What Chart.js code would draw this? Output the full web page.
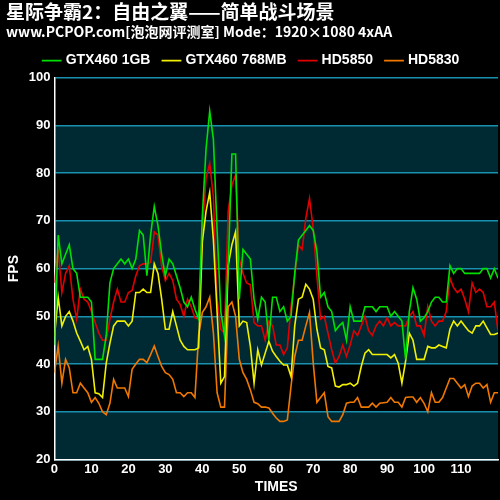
<!DOCTYPE html>
<html><head><meta charset="utf-8">
<script src="https://cdn.jsdelivr.net/npm/chart.js@4"></script>
<style>html,body{margin:0;padding:0;background:#000;}#w{width:500px;height:500px;}</style>
</head><body><div id="w"><canvas id="c"></canvas></div>
<script>
const seriesNames = ["GTX460 1GB", "GTX460 768MB", "HD5850", "HD5830"];
const gtx460_1gb = [44,67,61,63,65,60,59,54,54,54,53,41,41,41,46,57,60,61,62,61,62,60,62,68,67,58.5,67,73,69,63,58.5,62,61,58.5,56,53,52,54,51.5,49.5,71,85,93,87,68,51,46,60.6,84,84,53.6,64,63,62,53.6,49.4,54,53,45,54,54,51,52,49,50,59,66,67,68,69,68,63.5,54,55,52,51,47,48,48.7,45,52,49,49,49,52,52,52,51,52,52,52,50,51,50,49,41,51,56,53.6,49,49.7,51,53,54,54,53,53,60.6,59,60,60,59,59,59,59,59,60,60,58,60,58];
const gtx460_768 = [45.8,54,48,50,51,49,46.5,44.8,43,43.7,41,34,33.8,33,40.2,44.4,48,49,49,49,48,49,55,55,55.7,55,55,61,59,53.6,47.3,47.3,51,48,45,43.7,43,43,43,43.4,65.6,72,76,66,50.8,36,37.4,60.6,65,67.7,48,49,48.7,43.7,36,43,39.8,42.3,44.8,42.7,41.6,40.6,39.8,39.8,37.4,48,53.6,54,56.7,55.7,53.6,47.3,43.4,43,39.5,39.2,35.4,35.2,35.7,35.7,36,35.4,36,39.5,42.3,43,42,42,42,42,42,41.3,42,40.2,36,40.6,46.5,45,41,41,41,43.7,43.4,43.4,44,43.7,43.4,47.3,49,48,49,48,47,46.5,48,48,49,47.6,46.2,46.2,46.5];
const hd5850 = [57,64,55,59,60.6,53.6,49.4,55.7,53.6,53,51,48.7,46.5,45,45,49.4,53,55.7,53,53,55,55.4,58.5,60.6,61,61,61.3,67.7,67,60.6,57.5,59,57.5,53.6,52.5,50,53.6,52,49.7,49.4,67.7,79,82,75,53.6,47.3,46.5,72,77.5,79.6,62,59,57,56.6,48.7,48,48,45,49,48,44,44,42,43.4,52,58.5,65,64,70.5,74.7,68.4,58.5,49.4,50,46.5,43,40.2,41.6,44,41.6,44,47,46,48,50,47,46,48,49,48,49.7,48,48.7,48,48,48,50,51,48,48,46,52,49,48,49,49,51,58,56,55,55.7,53.6,51,57,55,55.7,55,52,52,53,47];
const hd5830 = [38.2,43.8,36,41,39.2,34,34,36,35,34,32,33,31.8,30,29.4,31.8,36.8,35,35,35,33.2,38.9,40,41,41,40.3,42,43.8,41.6,39.5,38.2,37.8,36.8,34,34,33.2,34,34,33,46,50.8,52,54,46.5,34,31,31,52,53,50,41,38.2,36.8,34.6,32,31.7,31,31,30.8,29.7,28.7,28,28,28.3,35.4,41.6,45,45,48,50.8,40.3,32,33,34,29,28,28,28,29.4,31.8,32,32,33,31,31,31,31.8,31,31.8,31.9,32,33,32,32,31,33,33.1,33.1,32,33,31.8,30,34,32,32,33,35,37,37,36,35,35.7,33.2,35.4,36,36,35,35.7,32,34,34];
const xTicks = [0,10,20,30,40,50,60,70,80,90,100,110];
const yTicks = [20,30,40,50,60,70,80,90,100];
const colors = ["#00e000","#f0f000","#e00000","#f07800"];
const allSeries = [gtx460_1gb, gtx460_768, hd5850, hd5830];

const bands = {
  id:'bands',
  beforeDraw(chart){
    const {ctx, chartArea:a, scales:{y}} = chart;
    ctx.save();
    ctx.fillStyle='#000'; ctx.fillRect(0,0,chart.width,chart.height);
    for(let v=20; v<100; v+=20){
      const t=y.getPixelForValue(v+10), b=y.getPixelForValue(v);
      ctx.fillStyle='#002a33'; ctx.fillRect(a.left,t,a.right-a.left,b-t);
    }
    ctx.restore();
  }
};

new Chart(document.getElementById('c'), {
  type:'line',
  data:{ datasets: allSeries.map((s,i)=>({
    label: seriesNames[i],
    data: s.map((v,k)=>({x:k,y:v})),
    borderColor: colors[i], backgroundColor: colors[i],
    borderWidth: 1.6, pointRadius:0, tension:0
  }))},
  options:{
    responsive:true, maintainAspectRatio:false, animation:false,
    layout:{padding:{left:6,right:2,top:0,bottom:0}},
    plugins:{
      title:{display:true, text:'星际争霸2：自由之翼——简单战斗场景', align:'start', color:'#fff',
        font:{family:'Noto Sans CJK SC', size:19, weight:'bold'}, padding:{top:0,bottom:0}},
      subtitle:{display:true, text:'www.PCPOP.com[泡泡网评测室] Mode：1920×1080 4xAA', align:'start', color:'#fff',
        font:{family:'Noto Sans CJK SC', size:14, weight:'bold'}, padding:{top:0,bottom:0}},
      legend:{display:true, labels:{color:'#fff', usePointStyle:true, pointStyle:'line', boxWidth:24,
        font:{family:'Arial, Liberation Sans', size:14, weight:'bold'}, padding:14}},
      tooltip:{enabled:false}
    },
    scales:{
      x:{type:'linear', min:0, max:120,
        afterBuildTicks(s){ s.ticks = xTicks.map(v=>({value:v})); },
        ticks:{color:'#fff', font:{family:'Arial, Liberation Sans', size:13, weight:'bold'}, maxRotation:0, padding:2},
        grid:{display:false, drawTicks:false}, border:{color:'#fff', width:1.5},
        title:{display:true, text:'TIMES', color:'#fff', font:{family:'Arial, Liberation Sans', size:14, weight:'bold'}, padding:{top:0}}},
      y:{min:20, max:100,
        afterBuildTicks(s){ s.ticks = yTicks.map(v=>({value:v})); },
        ticks:{color:'#fff', font:{family:'Arial, Liberation Sans', size:13, weight:'bold'}, padding:4},
        grid:{color:'#1890b0', lineWidth:1.5, drawTicks:false}, border:{color:'#fff', width:1.5},
        title:{display:true, text:'FPS', color:'#fff', font:{family:'Arial, Liberation Sans', size:14, weight:'bold'}, padding:{top:0,bottom:2}}}
    }
  },
  plugins:[bands]
});
</script></body></html>
